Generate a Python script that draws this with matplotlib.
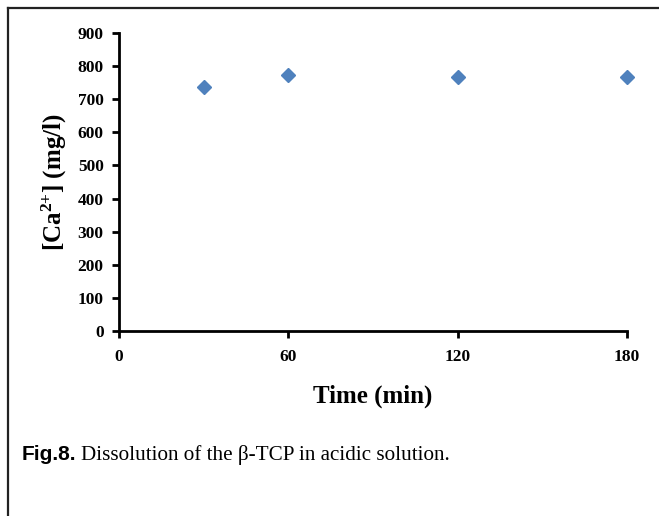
import matplotlib.pyplot as plt
from matplotlib.lines import Line2D

# data
time_min = [30, 60, 120, 180]
ca_conc = [736, 774, 766, 766]
x_ticks = [0, 60, 120, 180]
y_ticks = [0, 100, 200, 300, 400, 500, 600, 700, 800, 900]

serif = 'Liberation Serif'
plt.rcParams['mathtext.fontset'] = 'custom'
plt.rcParams['mathtext.rm'] = 'Liberation Serif:bold'
plt.rcParams['mathtext.it'] = 'Liberation Serif:bold'
plt.rcParams['mathtext.bf'] = 'Liberation Serif:bold'

fig = plt.figure(figsize=(6.59, 5.16), dpi=100)
ax = fig.add_axes([119 / 659, 1 - 331 / 516, (627 - 119) / 659, (331 - 33) / 516])

ax.plot(time_min, ca_conc, linestyle='none', marker='D', markersize=6.8,
        color='#4F81BD', clip_on=False)

ax.set_xlim(0, 180)
ax.set_ylim(0, 900)
ax.set_xticks(x_ticks)
ax.set_yticks(y_ticks)
for s in ['top', 'right']:
    ax.spines[s].set_visible(False)
for s in ['left', 'bottom']:
    ax.spines[s].set_linewidth(2)
ax.tick_params(direction='out', length=5, width=2, labelsize=12.5)
ax.tick_params(axis='x', pad=8)
ax.tick_params(axis='y', pad=6)
for lab in ax.get_xticklabels() + ax.get_yticklabels():
    lab.set_fontname(serif)
    lab.set_fontweight('bold')

ax.set_xlabel('Time (min)', fontname=serif, fontweight='bold', fontsize=18, labelpad=14)
ax.set_ylabel(r'[Ca$^{2{+}}$] (mg/l)', fontname=serif, fontweight='bold', fontsize=18, labelpad=6)

# caption
fig.text(22 / 659, 1 - 455 / 516, 'Fig.8.', fontname='Liberation Sans', fontweight='bold',
         fontsize=15, va='center', ha='left')
fig.text(81 / 659, 1 - 455 / 516, 'Dissolution of the \u03b2-TCP in acidic solution.',
         fontname=serif, fontsize=15.2, va='center', ha='left')

# partial frame around the figure
fig.add_artist(Line2D([8 / 659, 8 / 659], [0, 1 - 8 / 516], color='#222222', lw=1.6))
fig.add_artist(Line2D([8 / 659, 1], [1 - 8 / 516, 1 - 8 / 516], color='#222222', lw=1.6))

fig.savefig('out.png', dpi=100)
